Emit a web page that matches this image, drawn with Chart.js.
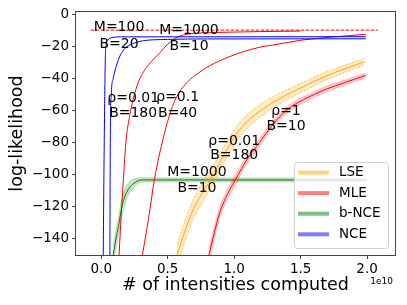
<!DOCTYPE html>
<html>
<head>
<meta charset="utf-8">
<script src="https://cdn.jsdelivr.net/npm/chart.js@4/dist/chart.umd.min.js"></script>
<style>html,body{margin:0;padding:0;background:#fff;}</style>
</head>
<body>
<canvas id="c" width="407" height="305"></canvas>
<script>
// tick labels (x in units of 1e10)
const xTicks = [0, 0.5, 1.0, 1.5, 2.0];
const yTicks = [0, -20, -40, -60, -80, -100, -120, -140];

// LSE (orange) with band
const lseX    = [0.57, 0.63, 0.69, 0.77, 0.85, 0.96, 1.06, 1.19, 1.31, 1.435, 1.56, 1.68, 1.83, 1.98];
const lseY    = [-150, -135, -122, -110, -99, -82, -70, -60.5, -54, -48.5, -43.5, -38.8, -34, -29.5];
const lseLow  = [-157, -141.5, -128, -116, -104.5, -87, -74.5, -64.5, -57.5, -51.5, -46.3, -41.3, -36.3, -31.5];
const lseHigh = [-143, -128.5, -116, -104, -93.5, -77, -65.5, -56.5, -50.5, -45.5, -40.7, -36.3, -31.7, -27.5];

// MLE rho=1 B=10 (red) with band
const mleX    = [0.81, 0.89, 0.95, 1.01, 1.1, 1.19, 1.26, 1.34, 1.43, 1.55, 1.68, 1.85, 1.99];
const mleY    = [-150, -124, -112, -103, -90, -80, -72, -64, -57.5, -52, -47, -42, -38];
const mleLow  = [-154, -127.5, -115, -106, -92.5, -82.5, -74, -66, -59.5, -53.8, -48.8, -43.5, -39.5];
const mleHigh = [-146, -120.5, -109, -100, -87.5, -77.5, -70, -62, -55.5, -50.2, -45.2, -40.5, -36.5];

// MLE rho=0.01 B=180 and rho=0.1 B=40
const mle1X = [0.134, 0.15, 0.165, 0.185, 0.21, 0.24, 0.28, 0.32, 0.37, 0.44, 0.5, 0.56, 0.62, 0.7, 0.85, 1.0, 1.2, 1.5];
const mle1Y = [-150, -125, -105, -80, -65, -53, -42, -35.5, -30, -24, -18.5, -14.8, -12.8, -11.8, -11.3, -11, -10.7, -10.4];
const mle2X = [0.31, 0.36, 0.40, 0.47, 0.535, 0.6, 0.74, 0.96, 1.19, 1.30, 1.51, 1.75, 1.99];
const mle2Y = [-150, -125, -103, -76, -57.5, -47, -36, -26.5, -20.5, -19, -16, -14, -12.4];

// b-NCE (green) with band
const bnceX    = [0.09, 0.11, 0.13, 0.155, 0.18, 0.2, 0.235, 0.27, 0.30, 0.5, 1.0, 1.5, 2.0];
const bnceY    = [-150, -140, -132, -120, -113, -109.5, -106, -104, -103.2, -103.2, -103.2, -103.2, -103.2];
const bnceLow  = [-156, -146, -138, -126, -118, -113.5, -109, -106, -104.7, -104.5, -104.5, -104.5, -104.5];
const bnceHigh = [-144, -134, -126, -114, -108, -105.5, -103, -102, -101.7, -101.9, -101.9, -101.9, -101.9];

// NCE (blue)
const nce1X = [0.015, 0.02, 0.025, 0.03, 0.035, 0.05, 0.08, 0.15, 1.99];
const nce1Y = [-150, -100, -60, -30, -20, -16, -14.5, -14, -13.9];
const nce2X = [0.065, 0.068, 0.075, 0.09, 0.13, 0.17, 0.23, 0.31, 0.5, 0.8, 1.99];
const nce2Y = [-150, -80, -50, -40, -28, -22, -18.5, -16.5, -15.6, -15.3, -15.2];

// reference level (dashed)
const refX = [-0.08, 2.08];
const refY = [-9.8, -9.8];

// annotations
const noteText = ['M=100', 'B=20', 'M=1000', 'B=10', '\u03c1=0.01', 'B=180', '\u03c1=0.1', 'B=40',
                  '\u03c1=0.01', 'B=180', 'M=1000', 'B=10', '\u03c1=1', 'B=10'];
const noteX = [0.134, 0.134, 0.66, 0.66, 0.24, 0.24, 0.575, 0.575, 1.0, 1.0, 0.72, 0.72, 1.39, 1.39];
const noteY = [-8.2, -18.4, -9.7, -19.7, -52.4, -61.8, -51.8, -61.7, -78.9, -87.8, -98.2, -108.5, -60.3, -69.7];

const legendNames = ['LSE', 'MLE', 'b-NCE', 'NCE'];
const legendColors = ['rgba(255,165,0,0.5)', 'rgba(255,0,0,0.5)', 'rgba(0,128,0,0.5)', 'rgba(0,0,255,0.5)'];

const pts = (xs, ys) => xs.map((x, i) => ({x: x, y: ys[i]}));
const line = (data, color, extra) => Object.assign({
  data: data, borderColor: color, borderWidth: 1, pointRadius: 0, fill: false,
  cubicInterpolationMode: 'monotone'
}, extra || {});

const FONT = 'DejaVu Sans';
Chart.defaults.font.family = FONT;
Chart.defaults.color = '#000';

const extras = {
  id: 'extras',
  afterDatasetsDraw(chart) {
    const ctx = chart.ctx, xs = chart.scales.x, ys = chart.scales.y;
    ctx.save();
    ctx.font = '14px "' + FONT + '"';
    ctx.fillStyle = '#000';
    ctx.textAlign = 'center';
    ctx.textBaseline = 'middle';
    noteText.forEach((t, i) => {
      ctx.fillText(t, xs.getPixelForValue(noteX[i]), ys.getPixelForValue(noteY[i]));
    });
    ctx.restore();
  },
  afterDraw(chart) {
    const ctx = chart.ctx, a = chart.chartArea;
    ctx.save();
    // frame
    ctx.strokeStyle = '#444';
    ctx.lineWidth = 1;
    ctx.strokeRect(a.left - 0.5, a.top - 0.5, a.right - a.left + 1, a.bottom - a.top + 1);
    // offset text
    ctx.font = '9px "' + FONT + '"';
    ctx.fillStyle = '#000';
    ctx.textAlign = 'right';
    ctx.textBaseline = 'middle';
    ctx.fillText('1e10', a.right - 2, 282);
    // legend
    const bx = 294.5, by = 162.5, bw = 94, bh = 86, r = 3;
    ctx.beginPath();
    ctx.moveTo(bx + r, by);
    ctx.arcTo(bx + bw, by, bx + bw, by + bh, r);
    ctx.arcTo(bx + bw, by + bh, bx, by + bh, r);
    ctx.arcTo(bx, by + bh, bx, by, r);
    ctx.arcTo(bx, by, bx + bw, by, r);
    ctx.closePath();
    ctx.fillStyle = 'rgba(255,255,255,0.8)';
    ctx.fill();
    ctx.strokeStyle = '#d0d0d0';
    ctx.stroke();
    ctx.font = '13.5px "' + FONT + '"';
    ctx.textAlign = 'left';
    legendNames.forEach((n, i) => {
      const y = 172.5 + i * 20.6;
      ctx.strokeStyle = legendColors[i];
      ctx.lineWidth = 4;
      ctx.beginPath();
      ctx.moveTo(298, y);
      ctx.lineTo(329, y);
      ctx.stroke();
      ctx.fillStyle = '#000';
      ctx.fillText(n, 339, y);
    });
    ctx.restore();
  }
};

new Chart(document.getElementById('c'), {
  type: 'line',
  data: {
    datasets: [
      line(pts(refX, refY), 'red', {borderDash: [3.5, 1.5], cubicInterpolationMode: 'default'}),
      line(pts(nce1X, nce1Y), 'blue'),
      line(pts(nce2X, nce2Y), 'blue'),
      line(pts(mle1X, mle1Y), 'red'),
      line(pts(mle2X, mle2Y), 'red'),
      line(pts(lseX, lseY), 'orange'),
      line(pts(lseX, lseLow), 'rgba(255,165,0,0.8)', {borderDash: [2, 1.5], borderWidth: 0.8}),
      line(pts(lseX, lseHigh), 'rgba(255,165,0,0.8)', {borderDash: [2, 1.5], borderWidth: 0.8, fill: '-1', backgroundColor: 'rgba(255,165,0,0.22)'}),
      line(pts(mleX, mleY), 'red'),
      line(pts(mleX, mleLow), 'rgba(255,0,0,0.25)', {borderWidth: 0.8}),
      line(pts(mleX, mleHigh), 'rgba(255,0,0,0.25)', {borderWidth: 0.8, fill: '-1', backgroundColor: 'rgba(255,0,0,0.2)'}),
      line(pts(bnceX, bnceY), 'green'),
      line(pts(bnceX, bnceLow), 'rgba(0,128,0,0.2)', {borderWidth: 0.8}),
      line(pts(bnceX, bnceHigh), 'rgba(0,128,0,0.2)', {borderWidth: 0.8, fill: '-1', backgroundColor: 'rgba(0,128,0,0.22)'})
    ]
  },
  options: {
    responsive: false,
    devicePixelRatio: 1,
    animation: false,
    layout: {padding: {top: 12, right: 12, left: 0, bottom: 0}},
    plugins: {legend: {display: false}, tooltip: {enabled: false}},
    scales: {
      x: {
        type: 'linear', min: -0.19, max: 2.21,
        afterBuildTicks: s => { s.ticks = xTicks.map(v => ({value: v})); },
        afterFit: s => { s.height = 50; },
        grid: {drawOnChartArea: false, drawTicks: true, tickLength: 4, color: '#444'},
        border: {display: false},
        ticks: {font: {size: 13.5}, color: '#000', padding: 2, maxRotation: 0, autoSkip: false,
                callback: v => v.toFixed(1)},
        title: {display: true, text: '# of intensities computed', font: {size: 17.5}, color: '#000',
                padding: {top: 0, bottom: 9.5}}
      },
      y: {
        type: 'linear', min: -150, max: 1.5,
        afterBuildTicks: s => { s.ticks = yTicks.map(v => ({value: v})); },
        afterFit: s => { s.width = 76; },
        grid: {drawOnChartArea: false, drawTicks: true, tickLength: 4, color: '#444'},
        border: {display: false},
        ticks: {font: {size: 13.5}, color: '#000', padding: 3, autoSkip: false,
                callback: v => v < 0 ? '\u2212' + (-v) : String(v)},
        title: {display: true, text: 'log-likelihood', font: {size: 17.5}, color: '#000',
                padding: {top: 6.5, bottom: 0}}
      }
    }
  },
  plugins: [extras]
});
</script>
</body>
</html>
